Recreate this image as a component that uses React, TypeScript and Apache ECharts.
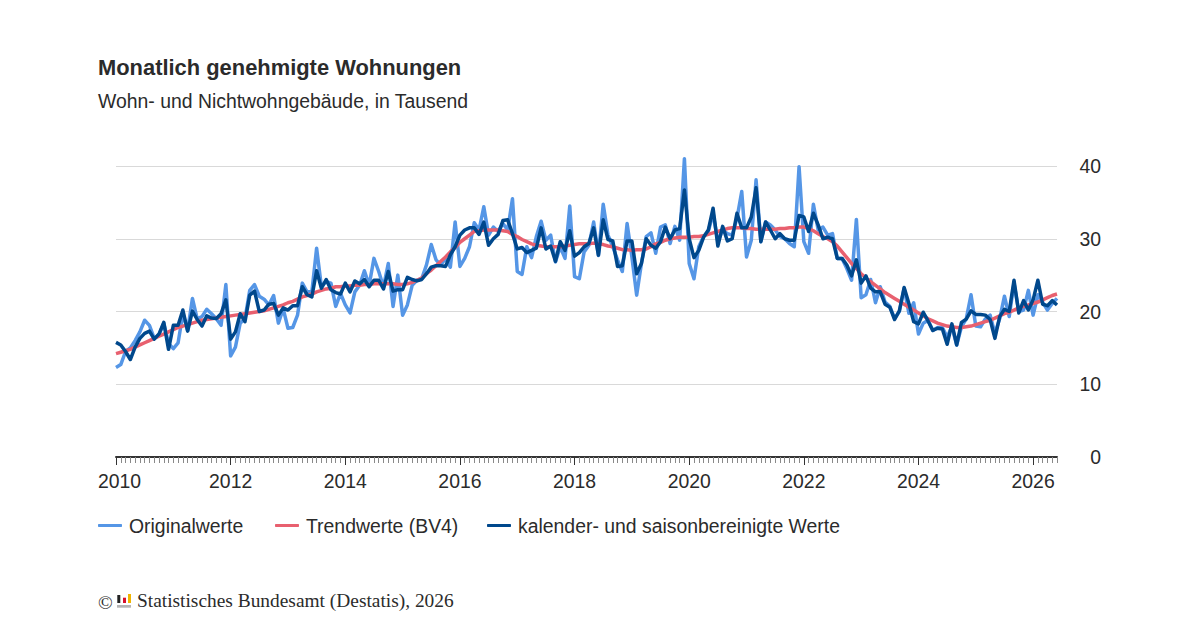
import React, { useEffect, useRef } from "react";
import * as echarts from "echarts";

const startYear = 2010;
const original = [
  12.3,12.7,14.5,15.0,16.0,17.2,18.8,18.1,16.3,16.8,18.4,15.6,
  14.9,15.7,19.7,17.4,21.8,19.0,19.3,20.3,19.7,19.0,18.1,23.7,
  13.9,15.1,18.4,19.0,22.9,23.7,22.1,21.7,20.9,22.2,18.4,20.4,
  17.7,17.8,19.5,23.9,22.7,22.7,28.7,23.4,24.1,23.9,20.7,22.5,
  20.9,19.8,22.7,23.6,25.6,23.6,27.3,25.5,23.4,26.6,20.7,25.0,
  19.5,20.9,23.6,24.3,24.5,26.4,29.2,27.1,26.4,27.3,26.1,32.3,
  26.2,27.3,28.9,32.2,31.2,34.4,30.5,31.6,31.0,32.1,31.2,35.5,
  25.5,25.1,28.9,27.4,30.3,32.4,29.8,30.5,26.8,28.9,27.3,34.5,
  24.8,24.5,28.2,29.1,32.3,27.7,34.75,30.5,28.9,27.1,25.5,32.1,
  27.5,22.25,26.6,30.3,30.8,28.0,31.6,31.9,29.35,31.7,29.8,41.0,
  26.6,24.5,28.9,30.3,31.0,33.5,29.6,31.2,30.7,30.5,32.8,36.5,
  27.5,29.8,38.1,29.6,32.3,31.9,31.2,30.3,30.0,29.35,28.9,39.9,
  29.6,28.0,34.75,31.2,31.6,30.5,30.7,27.3,27.3,25.9,24.3,32.65,
  21.9,22.3,24.4,21.2,23.4,21.3,20.7,19.05,20.0,23.2,19.75,21.2,
  16.9,18.4,18.8,17.4,17.8,17.8,16.5,17.9,15.4,17.9,19.0,22.3,
  18.0,17.9,19.0,19.5,17.0,19.0,22.1,19.3,23.9,20.0,20.2,22.9,
  19.5,22.3,21.3,20.2,21.1,21.8,
];
const trend = [
  14.2,14.4,14.6,14.8,15.1,15.4,15.7,16.0,16.3,16.6,16.9,17.2,
  17.5,17.8,18.0,18.2,18.4,18.6,18.8,18.9,19.0,19.1,19.2,19.3,
  19.4,19.5,19.6,19.7,19.8,19.9,20.0,20.1,20.3,20.5,20.7,20.9,
  21.2,21.4,21.7,22.0,22.2,22.4,22.7,22.9,23.1,23.2,23.4,23.4,
  23.5,23.5,23.6,23.6,23.7,23.7,23.8,23.8,23.8,23.8,23.8,23.7,
  23.7,23.8,24.0,24.3,24.6,25.2,25.7,26.3,26.9,27.5,28.2,28.8,
  29.5,30.0,30.5,31.0,31.1,31.2,31.2,31.2,31.2,31.1,31.0,30.6,
  30.3,29.9,29.6,29.3,29.1,29.0,28.9,28.9,28.9,28.9,29.0,29.1,
  29.2,29.3,29.3,29.3,29.4,29.3,29.2,29.0,28.9,28.7,28.5,28.5,
  28.4,28.5,28.5,28.6,28.9,29.3,29.5,29.8,30.0,30.1,30.2,30.2,
  30.2,30.3,30.3,30.4,30.6,30.8,31.0,31.2,31.4,31.5,31.5,31.5,
  31.4,31.4,31.3,31.3,31.3,31.3,31.3,31.4,31.4,31.5,31.5,31.6,
  31.6,31.4,31.1,30.7,30.3,30.0,29.6,29.0,28.2,27.4,26.6,25.9,
  25.2,24.6,24.1,23.6,23.1,22.6,22.2,21.8,21.4,21.0,20.6,20.2,
  19.8,19.4,19.0,18.7,18.4,18.2,18.0,17.9,17.8,17.8,17.9,18.0,
  18.2,18.4,18.6,18.8,19.1,19.4,19.7,19.9,20.2,20.5,20.7,20.9,
  21.1,21.3,21.6,21.9,22.2,22.4,
];
const adjusted = [
  15.75,15.4,14.5,13.4,15.1,16.3,17.0,17.3,16.2,16.9,18.5,14.8,
  18.1,18.1,20.2,17.3,20.05,18.9,18.0,19.4,19.1,19.05,19.7,21.6,
  16.2,17.2,19.7,18.6,22.25,22.8,20.0,20.2,21.0,21.1,19.5,20.5,
  20.2,20.8,20.8,23.4,22.3,22.0,25.6,23.2,24.4,23.0,22.6,22.4,
  23.9,22.7,24.2,23.8,24.4,23.4,24.3,24.3,23.1,25.5,22.8,23.0,
  23.0,24.7,24.4,24.2,24.4,25.2,26.1,26.3,26.3,26.2,27.8,28.9,
  30.5,31.2,31.5,31.5,30.6,32.3,29.1,30.0,30.6,32.5,32.6,30.7,
  28.6,28.8,28.1,28.4,28.7,31.5,28.6,29.0,26.9,29.6,28.4,31.1,
  27.6,28.1,28.9,29.35,31.5,27.75,32.6,29.9,29.7,26.2,26.3,29.7,
  29.7,25.2,26.6,30.0,29.1,28.7,29.6,31.6,30.0,31.2,31.4,36.7,
  30.0,27.4,28.4,30.2,31.2,34.2,29.0,31.7,29.7,30.0,33.5,31.5,
  31.5,33.0,37.0,29.6,32.3,31.2,30.0,30.7,30.0,29.8,29.8,33.2,
  33.0,31.0,33.5,31.9,30.0,30.2,30.0,27.3,27.3,26.4,24.9,27.1,
  23.9,24.9,23.2,22.7,22.7,21.0,20.6,18.9,20.1,23.3,21.1,18.6,
  18.3,19.9,18.7,17.4,17.7,17.6,15.5,18.3,15.4,18.5,18.96,20.1,
  19.6,19.6,19.5,18.9,16.3,19.3,20.3,20.0,24.3,19.8,21.5,20.2,
  21.6,24.3,21.0,20.8,21.5,20.9,
];
const categories = original.map((_, i) => String(startYear + Math.floor(i / 12)));
const seriesNames = ["Originalwerte", "Trendwerte (BV4)", "kalender- und saisonbereinigte Werte"];
const seriesColors = ["#5596e6", "#e8606f", "#00488c"];
const seriesValues = [original, trend, adjusted];
const legendLefts = [98, 275, 487];
const titleText = "Monatlich genehmigte Wohnungen";
const subtitleText = "Wohn- und Nichtwohngebäude, in Tausend";
const sourceText = "Statistisches Bundesamt (Destatis), 2026";
const textColor = "#2b2b2b";
const sans = "'Liberation Sans', Arial, sans-serif";
const serif = "'Liberation Serif', 'Times New Roman', serif";
const fs = 19.4;

export default function App() {
  const ref = useRef<HTMLDivElement>(null);
  useEffect(() => {
    if (!ref.current) return;
    const chart = echarts.init(ref.current, undefined, { renderer: "svg" });
    chart.setOption({
      animation: false,
      backgroundColor: "#ffffff",
      textStyle: { fontFamily: sans },
      grid: { left: 116, right: 143, top: 166, bottom: 173, containLabel: false },
      xAxis: [
        {
          type: "category",
          data: categories,
          boundaryGap: false,
          axisLine: { show: true, lineStyle: { color: "#333333", width: 2 } },
          axisTick: { show: true, interval: 0, length: 6, lineStyle: { color: "#8a8a8a", width: 1 } },
          axisLabel: {
            interval: (i: number) => i % 24 === 0,
            formatter: (v: string, i: number) => (i === 0 ? `{first|${v}}` : v),
            rich: { first: { padding: [0, 0, 0, 7], fontSize: fs, color: textColor, fontFamily: sans } },
            margin: 14,
            fontSize: fs,
            color: textColor,
            fontFamily: sans,
          },
          splitLine: { show: false },
        },
        {
          type: "category",
          position: "bottom",
          data: categories,
          boundaryGap: false,
          axisLine: { show: false },
          axisTick: {
            show: true,
            interval: (i: number) => i % 24 === 0,
            length: 8,
            lineStyle: { color: "#333333", width: 1 },
          },
          axisLabel: { show: false },
        },
      ],
      yAxis: {
        type: "value",
        position: "right",
        min: 0,
        max: 40,
        interval: 10,
        axisLine: { show: false },
        axisTick: { show: false },
        axisLabel: { fontSize: fs, color: textColor, fontFamily: sans, align: "right", margin: 44 },
        splitLine: { show: true, lineStyle: { color: "#d9d9d9", width: 1 } },
      },
      legend: seriesNames.map((name, k) => ({
        show: true,
        left: legendLefts[k],
        top: 516,
        padding: 0,
        icon: "roundRect",
        itemWidth: 24,
        itemHeight: 3,
        textStyle: { fontSize: fs, color: textColor, fontFamily: sans, padding: [0, 0, 0, 2] },
        data: [name],
      })),
      title: {
        left: 98,
        top: 56,
        padding: 0,
        text: titleText,
        subtext: subtitleText,
        itemGap: 13,
        textStyle: { fontSize: 21.9, fontWeight: "bold", color: textColor, fontFamily: sans },
        subtextStyle: { fontSize: fs, color: textColor, fontFamily: sans },
      },
      series: seriesNames.map((name, k) => ({
        name,
        type: "line",
        data: seriesValues[k],
        symbol: "none",
        clip: false,
        smooth: false,
        itemStyle: { color: seriesColors[k] },
        lineStyle: { color: seriesColors[k], width: 3.5, join: "round" },
        emphasis: { disabled: true },
        z: 3 + k,
      })),
      graphic: [
        { type: "text", left: 98, top: 593, style: { text: "©", font: `${fs}px ${serif}`, fill: textColor } },
        { type: "rect", shape: { x: 117.3, y: 595, width: 3, height: 8 }, style: { fill: "#222222" } },
        { type: "rect", shape: { x: 123, y: 597.7, width: 3, height: 5.3 }, style: { fill: "#d8102c" } },
        { type: "rect", shape: { x: 128, y: 594, width: 3, height: 9 }, style: { fill: "#f0b400" } },
        { type: "rect", shape: { x: 117, y: 605, width: 14, height: 2.7 }, style: { fill: "#b4b4b4" } },
        { type: "text", left: 137, top: 591, style: { text: sourceText, font: `${fs}px ${serif}`, fill: textColor } },
      ],
    });
    return () => chart.dispose();
  }, []);
  return <div ref={ref} style={{ position: "fixed", left: 0, top: 0, width: 1200, height: 630 }} />;
}
